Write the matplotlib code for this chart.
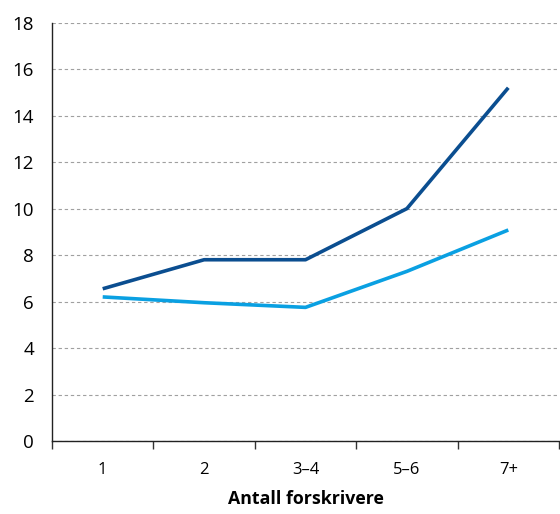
import matplotlib
matplotlib.use("Agg")
import matplotlib.pyplot as plt
from matplotlib.ticker import FixedLocator

categories = ["1", "2", "3\u20134", "5\u20136", "7+"]
series_dark = [6.55, 7.8, 7.8, 10.0, 15.2]
series_light = [6.2, 5.95, 5.75, 7.3, 9.08]

plt.rcParams["font.family"] = ["Open Sans", "DejaVu Sans"]

fig = plt.figure(figsize=(5.6, 5.14), dpi=100)
ax = fig.add_axes([52 / 560, 1 - 441 / 514, 507 / 560, (441 - 22.7) / 514])

x = list(range(len(categories)))
ax.plot(x, series_dark, color="#0b4e90", linewidth=2.6, solid_capstyle="butt", zorder=3)
ax.plot(x, series_light, color="#0aa0e2", linewidth=2.6, solid_capstyle="butt", zorder=3)

ax.set_xlim(-0.5, len(categories) - 0.5)
ax.set_ylim(0, 18)
ax.set_yticks(range(0, 19, 2))
ax.set_xticks(x)
ax.set_xticklabels(categories, fontsize=12)
ax.xaxis.set_minor_locator(FixedLocator([i - 0.5 for i in range(len(categories) + 1)]))
ax.tick_params(axis="x", which="major", length=0, pad=15)
ax.tick_params(axis="x", which="minor", length=6, width=1, direction="out", color="#333333")
ax.tick_params(axis="y", length=0, pad=13, labelsize=13.5)

ax.grid(axis="y", linestyle=(0, (3, 2.5)), color="#a0a0a0", linewidth=0.8)
ax.set_axisbelow(True)
for side in ("top", "right"):
    ax.spines[side].set_visible(False)
for side in ("left", "bottom"):
    ax.spines[side].set_color("#222222")
    ax.spines[side].set_linewidth(1.0)

ax.set_xlabel("Antall forskrivere", fontsize=12.8, fontweight="bold", labelpad=9)

fig.savefig("out.png", dpi=100)
